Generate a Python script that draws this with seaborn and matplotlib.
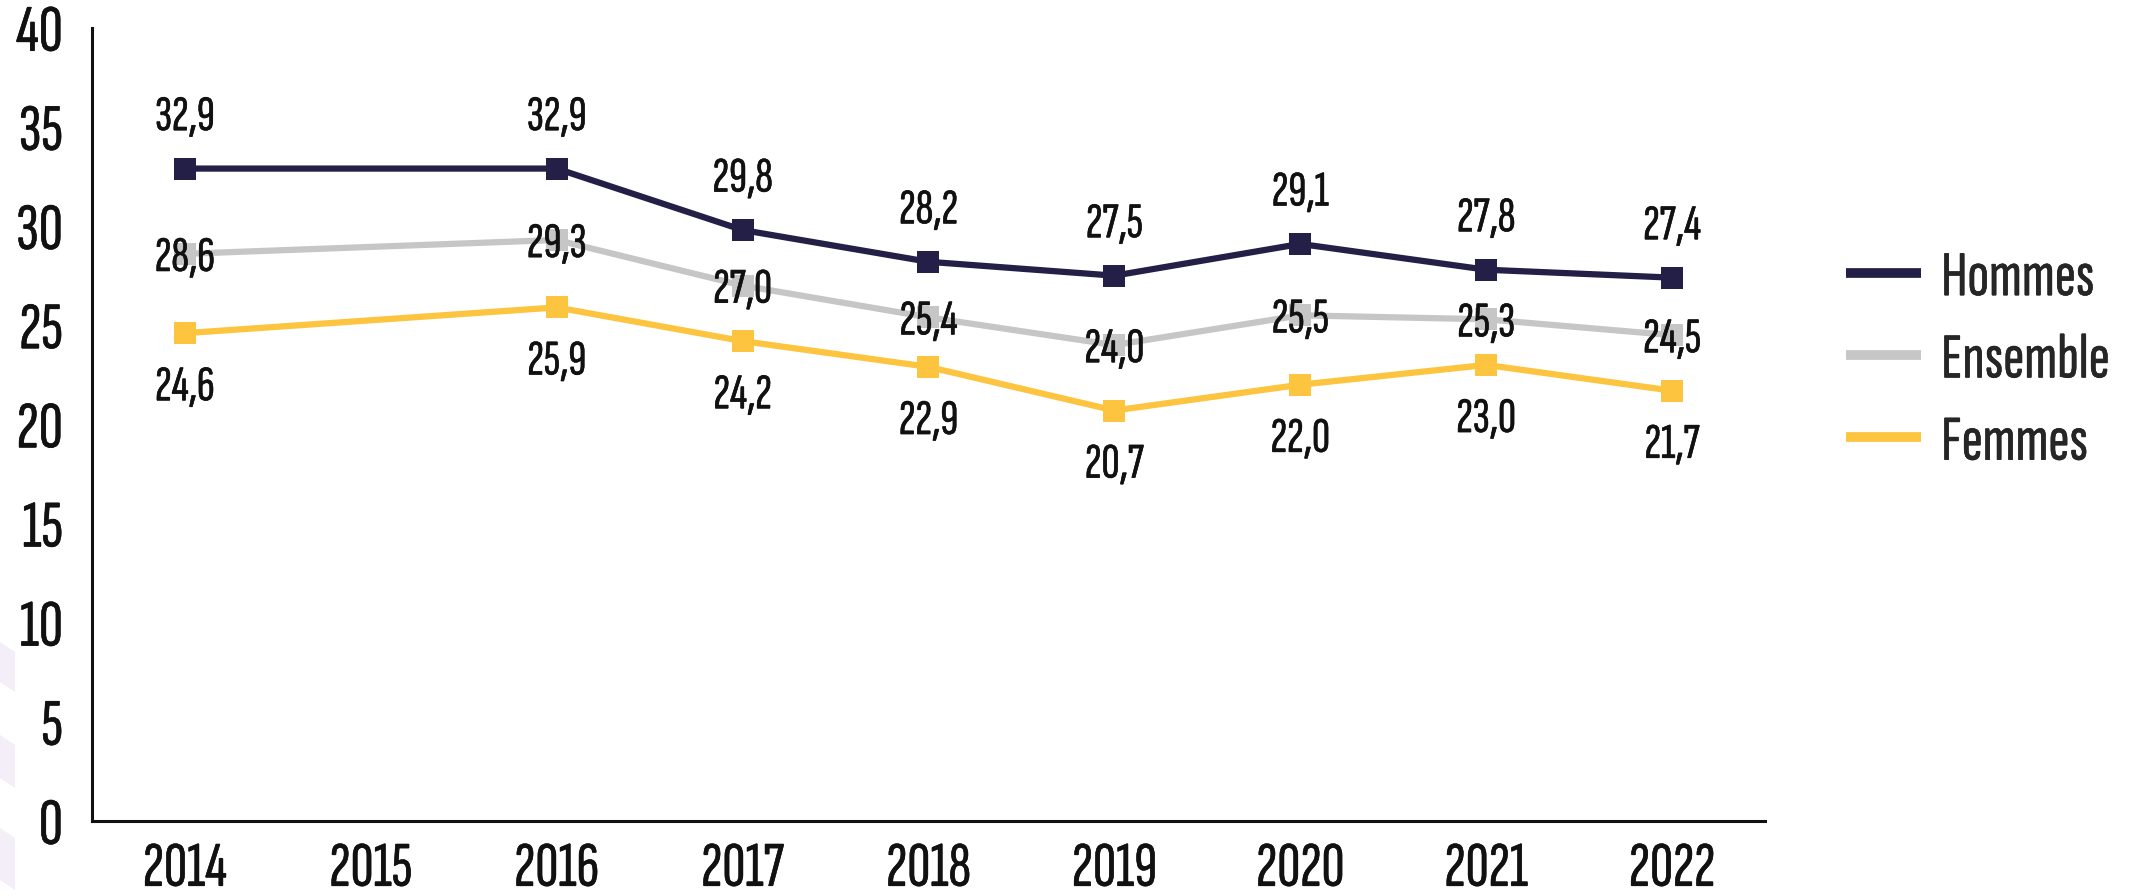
import matplotlib
matplotlib.use("Agg")
import matplotlib.pyplot as plt
import matplotlib.patheffects as pe
from matplotlib.lines import Line2D
from matplotlib.patches import Polygon
import numpy as np
import pandas as pd
import seaborn as sns

years = ["2014", "2015", "2016", "2017", "2018", "2019", "2020", "2021", "2022"]
hommes = [32.9, np.nan, 32.9, 29.8, 28.2, 27.5, 29.1, 27.8, 27.4]
ensemble = [28.6, np.nan, 29.3, 27.0, 25.4, 24.0, 25.5, 25.3, 24.5]
femmes = [24.6, np.nan, 25.9, 24.2, 22.9, 20.7, 22.0, 23.0, 21.7]

series = ["Hommes", "Ensemble", "Femmes"]
colors = {"Hommes": "#231f46", "Ensemble": "#c6c6c6", "Femmes": "#fcc43f"}
# vertical offset of the value labels, in points
label_offset = {"Hommes": 37, "Ensemble": -3, "Femmes": -39}

FONT = ["Sofia Sans Extra Condensed", "Saira ExtraCondensed", "DejaVu Sans"]
INK = "#111111"
# slightly heavier glyphs, closer to the weight of the original
BOLDER = [pe.withStroke(linewidth=0.4, foreground=INK)]

sns.set_style("white")
plt.rcParams["font.family"] = FONT

df = pd.DataFrame({"Année": years, "Hommes": hommes, "Ensemble": ensemble, "Femmes": femmes})
df["pos"] = np.arange(len(years))
long_df = df.melt(id_vars=["Année", "pos"], value_vars=series,
                  var_name="Série", value_name="Valeur").dropna()

fig = plt.figure(figsize=(21.54, 8.96), dpi=100)
ax = fig.add_axes([0.0427, 0.0837, 0.7767, 0.8853])

# faint decorative chevrons on the left edge
for y0, y1 in [(642, 692), (735, 788), (828, 890)]:
    pts = [(0, y0), (15, y0 + 10), (15, y1), (0, y1 - 10)]
    fig.patches.append(Polygon([(x / 2154, 1 - y / 896) for x, y in pts],
                               closed=True, transform=fig.transFigure,
                               facecolor="#f3eef8", edgecolor="none", zorder=0))

for name in series:
    sub = long_df[long_df["Série"] == name]
    sns.lineplot(data=sub, x="pos", y="Valeur", color=colors[name], ax=ax,
                 marker="s", markersize=16, markeredgewidth=0,
                 markerfacecolor=colors[name], linewidth=4.5, legend=False)

for name in series:
    sub = long_df[long_df["Série"] == name]
    for p, v in zip(sub["pos"], sub["Valeur"]):
        ax.annotate(f"{v:.1f}".replace(".", ","), (p, v),
                    xytext=(0, label_offset[name]), textcoords="offset points",
                    ha="center", va="center", fontsize=36, color=INK,
                    path_effects=BOLDER)

ax.set_xlim(-0.5, len(years) - 0.5)
ax.set_ylim(0, 40)
ax.set_yticks(np.arange(0, 41, 5))
ax.set_xticks(np.arange(len(years)) + 0.5)
ax.set_xticklabels([])
ax.set_xticks(np.arange(len(years)), minor=True)
ax.set_xticklabels(years, minor=True)

ax.tick_params(axis="y", direction="in", length=18, width=2.2, colors=INK,
               labelsize=48, pad=21)
ax.tick_params(axis="x", which="major", direction="in", length=19, width=2.2,
               colors=INK)
ax.tick_params(axis="x", which="minor", length=0, labelsize=46, pad=15,
               labelcolor=INK)
for lbl in ax.get_yticklabels() + ax.get_xticklabels(minor=True):
    lbl.set_path_effects(BOLDER)

for s in ["top", "right"]:
    ax.spines[s].set_visible(False)
for s in ["left", "bottom"]:
    ax.spines[s].set_color(INK)
    ax.spines[s].set_linewidth(2.2)

ax.set_xlabel("")
ax.set_ylabel("")

handles = [Line2D([0], [0], color=colors[n], linewidth=7, solid_capstyle="butt")
           for n in series]
leg = fig.legend(handles, series, loc="center left",
                 bbox_to_anchor=(0.857, 0.597), frameon=False, fontsize=46,
                 handlelength=1.17, handletextpad=0.32, labelspacing=0.4,
                 borderpad=0, borderaxespad=0)
for t in leg.get_texts():
    t.set_path_effects(BOLDER)

fig.savefig("out.png", dpi=100, facecolor="white")
